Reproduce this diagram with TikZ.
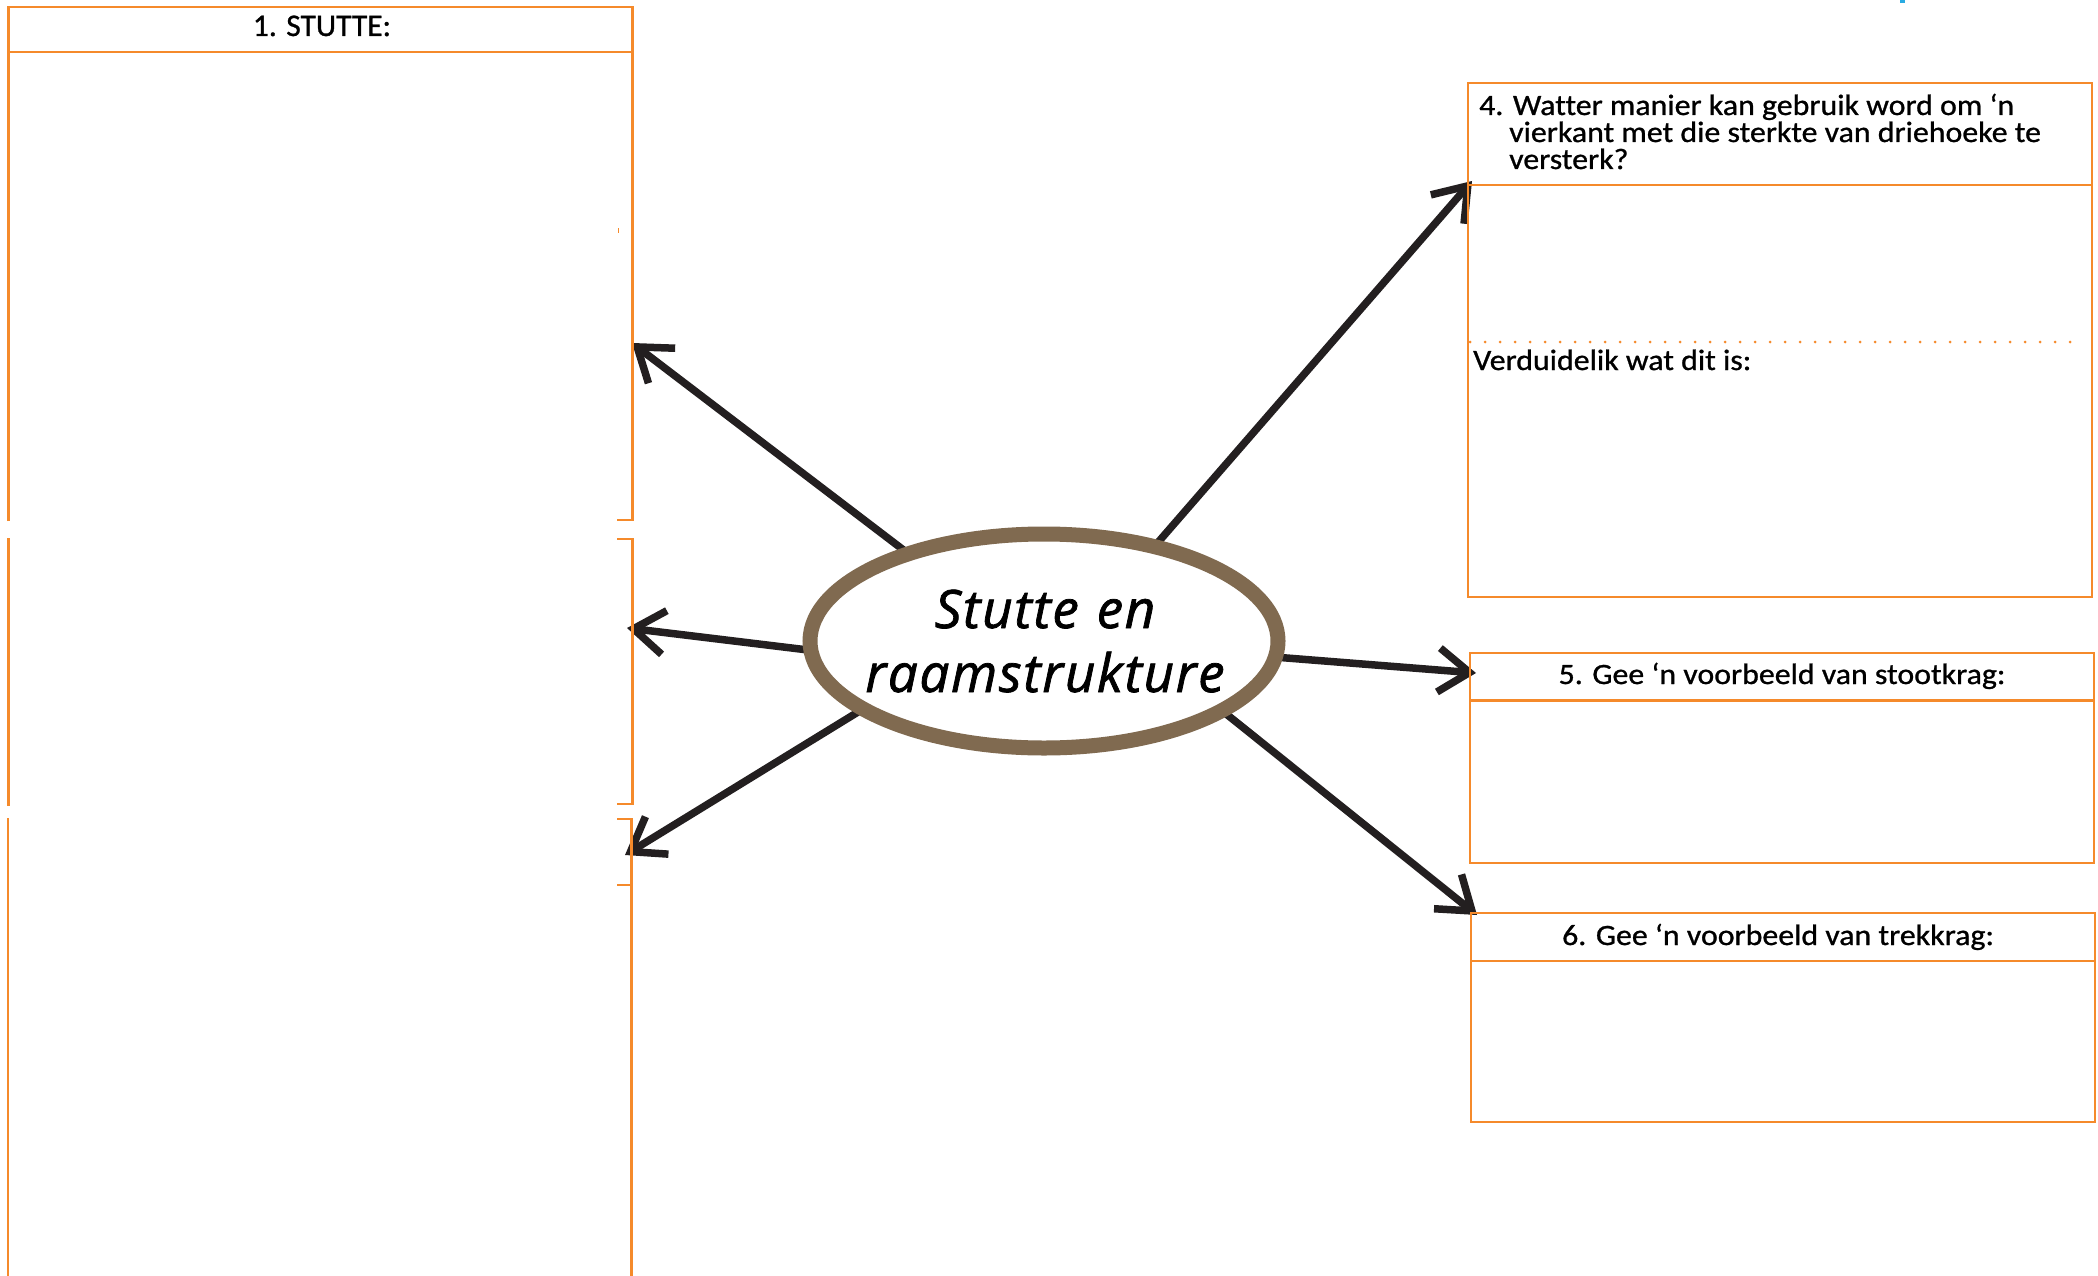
\documentclass[tikz,border=0pt]{standalone}
\usepackage{fontspec}
\setmainfont{Carlito}[Ligatures=NoCommon,FakeBold=0.9]
\newfontfamily\hdr{Carlito}[FakeStretch=1.08,Ligatures=NoCommon,FakeBold=0.9]
\newfontfamily\hand{Open Sans}[LetterSpace=3,FakeBold=1.4]
\usetikzlibrary{arrows.meta,shapes.geometric,backgrounds}
\definecolor{frame}{HTML}{F58A2B}
\definecolor{ink}{HTML}{231F20}
\definecolor{rim}{HTML}{806A50}
\definecolor{sky}{HTML}{29ABE2}

\begin{document}
\begin{tikzpicture}[x=1pt,y=-1pt,line join=miter,
  frameline/.style={draw=frame,line width=2.5pt},
  panel/.style={frameline,rectangle,inner sep=0pt,outer sep=0pt,anchor=north west},
  hdrtext/.style={font=\hdr\fontsize{29.5}{27}\selectfont,inner sep=0pt,text=black},
  spoke/.style={draw=ink,line width=7.5pt,-{Straight Barb[length=31pt,width=44pt]},shorten <=-12pt},
  hubtext/.style={font=\hand\itshape\fontsize{53}{65}\selectfont,inner sep=0pt,anchor=base}
]
\useasboundingbox (0,0) rectangle (2098,1276);

% small stray marks
\fill[sky] (1900,0) rectangle (1905,3);
\draw[frame,line width=1pt] (618,228) -- (618,233);

% left column of answer boxes
\draw[frameline] (8.5,521) -- (8.5,7) -- (632.5,7) -- (632.5,520) -- (617,520);
\draw[frameline] (8.5,52) -- (632.5,52);
\node[inner sep=0pt,anchor=base,font=\fontsize{31.5}{34}\selectfont] (stutte) at (322,36) {1. STUTTE:};
\draw[frameline] (8.5,538) -- (8.5,806);
\draw[frameline] (617,539) -- (632.5,539) -- (632.5,804) -- (617,804);
\draw[frameline] (8,818) -- (8,1280);
\draw[frameline] (617,819) -- (631.5,819) -- (631.5,1280);
\draw[frameline] (617,885) -- (631.5,885);

% right column of question boxes
\node[panel,minimum width=624pt,minimum height=514pt] (q4) at (1468,83) {};
\draw[frameline] ([yshift=-102pt]q4.north west) -- ([yshift=-102pt]q4.north east);
\draw[draw=frame,line width=3pt,line cap=round,dash pattern=on 0pt off 15pt]
  ([yshift=-259pt,xshift=2pt]q4.north west) -- ([yshift=-259pt,xshift=-10pt]q4.north east);
\node[hdrtext,anchor=base west] (q4a) at (1479,115) {4. Watter manier kan gebruik word om ‘n};
\node[hdrtext,anchor=base west] (q4b) at (1509,142) {vierkant met die sterkte van driehoeke te};
\node[hdrtext,anchor=base west] (q4c) at (1509,169) {versterk?};
\node[hdrtext,anchor=base west] (q4d) at (1473,370) {Verduidelik wat dit is:};

\node[panel,minimum width=624pt,minimum height=210pt] (q5) at (1470,653) {};
\draw[frameline] ([yshift=-47.5pt]q5.north west) -- ([yshift=-47.5pt]q5.north east);
\node[hdrtext,anchor=base] (q5t) at (1782,684) {5. Gee ‘n voorbeeld van stootkrag:};

\node[panel,minimum width=624pt,minimum height=209pt] (q6) at (1471,913) {};
\draw[frameline] ([yshift=-48pt]q6.north west) -- ([yshift=-48pt]q6.north east);
\node[hdrtext,anchor=base] (q6t) at (1778,945) {6. Gee ‘n voorbeeld van trekkrag:};

% central topic
\node[ellipse,draw=rim,line width=15pt,fill=white,minimum width=468pt,minimum height=214pt,inner sep=0pt] (hub) at (1044,641) {};
\node[hubtext] (hubA) at (1045,628) {Stutte\hspace{18pt}en};
\node[hubtext] (hubB) at (1045,692) {raamstrukture};

% arrow targets on the boxes
\coordinate (t1) at (632,343);
\coordinate (t2) at (627,628);
\coordinate (t3) at (625,855);
\coordinate (t4) at (1472,181);
\coordinate (t5) at (1476,673);
\coordinate (t6) at (1477,915);

\begin{scope}[on background layer]
\draw[spoke] (hub.147) -- (t1);
\draw[spoke] (hub.182.4) -- (t2);
\draw[spoke] (hub.201.4) -- (t3);
\draw[spoke] (hub.41) -- (t4);
\draw[spoke] (hub.356.4) -- (t5);
\draw[spoke] (hub.338.9) -- (t6);
\end{scope}
\end{tikzpicture}
\end{document}
